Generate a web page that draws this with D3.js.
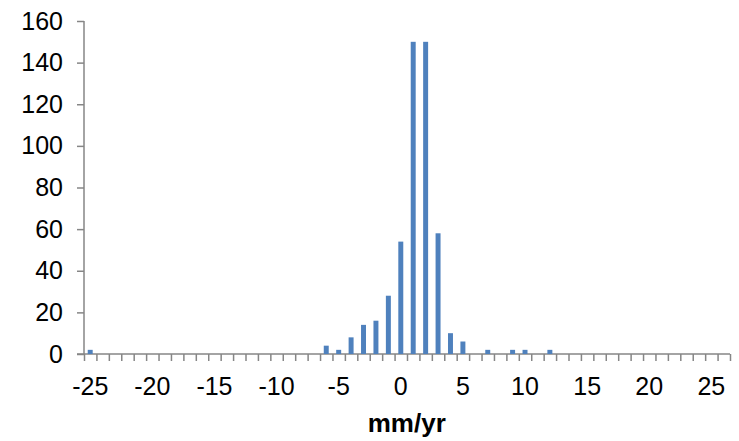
<!DOCTYPE html>
<html>
<head>
<meta charset="utf-8">
<style>
  body { margin: 0; background: #fff; }
  text { font-family: "Liberation Sans", Arial, sans-serif; fill: #000; }
</style>
</head>
<body>
<svg width="739" height="441"></svg>
<script src="https://d3js.org/d3.v7.min.js"></script>
<script>

// mm/yr bins and counts
var categories = [-25, -24, -23, -22, -21, -20, -19, -18, -17, -16, -15, -14, -13,
  -12, -11, -10, -9, -8, -7, -6, -5, -4, -3, -2, -1, 0, 1, 2, 3, 4, 5, 6, 7, 8,
  9, 10, 11, 12, 13, 14, 15, 16, 17, 18, 19, 20, 21, 22, 23, 24, 25, 26];
var counts = [2, 0, 0, 0, 0, 0, 0, 0, 0, 0, 0, 0, 0,
  0, 0, 0, 0, 0, 0, 4, 2, 8, 14, 16, 28, 54, 150, 150, 58, 10, 6, 0, 2, 0,
  2, 2, 0, 2, 0, 0, 0, 0, 0, 0, 0, 0, 0, 0, 0, 0, 0, 0];
var xTickLabels = [-25, -20, -15, -10, -5, 0, 5, 10, 15, 20, 25];
var yTicks = [0, 20, 40, 60, 80, 100, 120, 140, 160];

var data = categories.map(function(c, i) { return {bin: c, n: counts[i]}; });

var svg = d3.select("svg"),
    margin = {top: 21, right: 9, bottom: 87, left: 84},
    width = +svg.attr("width") - margin.left - margin.right,
    height = +svg.attr("height") - margin.top - margin.bottom,
    g = svg.append("g").attr("transform", "translate(" + margin.left + "," + margin.top + ")");

var axisColor = "#868686";
var tickFont = "25px";

var x = d3.scaleBand()
    .domain(categories)
    .range([0, width])
    .paddingInner(0.6)
    .paddingOuter(0.3);

// boundaries between categories, for the tick marks
var xEdge = d3.scaleLinear()
    .domain([categories[0] - 0.5, categories[categories.length - 1] + 0.5])
    .range([0, width]);

var y = d3.scaleLinear()
    .domain([0, 160])
    .range([height, 0]);

// y axis
var yAxis = g.append("g")
    .call(d3.axisLeft(y).tickValues(yTicks).tickSize(7).tickPadding(14));
yAxis.selectAll("line, path").attr("stroke", axisColor).attr("stroke-width", 1.5);
yAxis.select(".domain").attr("d", "M0," + y(160) + "V" + height);
yAxis.selectAll("text").style("font-size", tickFont).style("font-family", "Liberation Sans, Arial, sans-serif");

// x tick marks
var xTicks = g.append("g")
    .attr("transform", "translate(0," + height + ")")
    .call(d3.axisBottom(xEdge)
      .tickValues(d3.range(categories.length + 1).map(function(i) { return categories[0] - 0.5 + i; }))
      .tickSize(7).tickSizeOuter(0).tickFormat(""));
xTicks.selectAll("line, path").attr("stroke", axisColor).attr("stroke-width", 1.5);
xTicks.select(".domain").attr("d", "M-7,0H" + width);

// x labels
var xLabels = g.append("g")
    .attr("transform", "translate(0," + height + ")")
    .call(d3.axisBottom(x).tickValues(xTickLabels).tickSize(0).tickPadding(23));
xLabels.select(".domain").remove();
xLabels.selectAll("text").style("font-size", tickFont).style("font-family", "Liberation Sans, Arial, sans-serif");

// bars
g.append("g").selectAll("rect")
  .data(data.filter(function(d) { return d.n > 0; }))
  .enter().append("rect")
    .attr("x", function(d) { return x(d.bin); })
    .attr("y", function(d) { return y(d.n); })
    .attr("width", x.bandwidth())
    .attr("height", function(d) { return height - y(d.n); })
    .attr("fill", "#4F81BD");

// axis title
g.append("text")
    .attr("x", x(0) + x.bandwidth() / 2 + 6)
    .attr("y", height + 78)
    .attr("text-anchor", "middle")
    .style("font-size", "26px")
    .style("font-weight", "bold")
    .text("mm/yr");

</script>
</body>
</html>
